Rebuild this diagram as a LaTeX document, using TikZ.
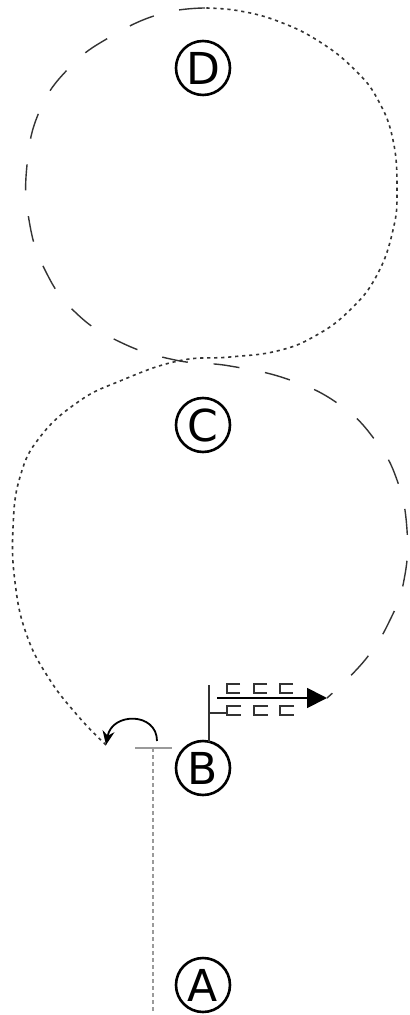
\documentclass[tikz,border=0pt]{standalone}
\usepackage{fontspec}
\usepackage{tikz}
\usetikzlibrary{arrows.meta}
\newfontfamily\lblfont{DejaVu Sans}
\definecolor{StrandDark}{HTML}{333333}
\definecolor{StrandGray}{HTML}{9A9A9A}

\begin{document}
\begin{tikzpicture}[x=0.5pt,y=-0.5pt,
    every node/.style={font=\lblfont\fontsize{22}{22}\selectfont},
    site/.style={circle, draw, line width=1.3pt, minimum size=27pt, inner sep=0pt},
    dotl/.style={StrandDark, line width=0.8pt, dash pattern=on 1.6pt off 1.9pt},
    dashl/.style={StrandDark, line width=0.7pt, dash pattern=on 13pt off 13pt},
    grayl/.style={StrandGray, line width=0.9pt, dash pattern=on 2pt off 1.5pt},
    ar/.style={-{Stealth[length=7pt,width=6pt]}, line width=0.9pt},
    arf/.style={-{Triangle[length=10pt,width=10pt]}, line width=0.9pt},
    frag/.style={StrandDark, line width=0.9pt},
  ]
  \useasboundingbox (0,0) rectangle (409,1015);

  % sites
  \node[site] (D) at (203,68)  {D};
  \node[site] (C) at (203,425) {C};
  \node[site] (B) at (203,768) {B};
  \node[site] (A) at (203,985) {A};

  % fixed points
  \coordinate (top)   at (205,8);
  \coordinate (loopend) at (106,745);
  \coordinate (bar)   at (153,748);
  \coordinate (base)  at (153,1013);
  \coordinate (tip)   at (327,698);
  \coordinate (tail)  at (217,698);

  % stem and bar
  \draw[grayl] (bar) -- (base);
  \draw[StrandGray, line width=1.2pt] (135,748) -- (172,748);

  % dotted strand
  \draw[dotl] plot[smooth, tension=0.75] coordinates {
    (loopend) (78,716) (48,677) (26,633) (15,582) (13,528) (20,477) (40,437)
    (78,402) (120,381) (178,361) (230,357) (277,351) (315,336) (350,310)
    (377,275) (393,230) (397,190) (393,140) (378,100) (355,70) (320,42)
    (280,22) (240,11) (top)};

  % dashed strand
  \draw[dashl] plot[smooth, tension=0.75] coordinates {
    (top) (160,14) (110,37) (70,67) (40,110) (27,165) (29,220) (45,270)
    (75,312) (120,342) (175,360) (230,366) (290,380) (340,405) (375,440)
    (397,480) (407,530) (404,580) (390,620) (365,660) (tip)};

  % turn arrow
  \draw[ar] (157,741) .. controls (157,712) and (112,712) .. (loopend);

  % fork block
  \draw[frag] (209,685) -- (209,742);
  \draw[arf] (tail) -- (tip);
  \foreach \x in {227,254,280}{
    \draw[frag] (\x+13,684) -- (\x,684) -- (\x,693) -- (\x+13,693);
    \draw[frag] (\x+14,706) -- (\x,706) -- (\x,715) -- (\x+14,715);
  }
  \draw[frag] (209,713) -- (227,713);
\end{tikzpicture}
\end{document}
